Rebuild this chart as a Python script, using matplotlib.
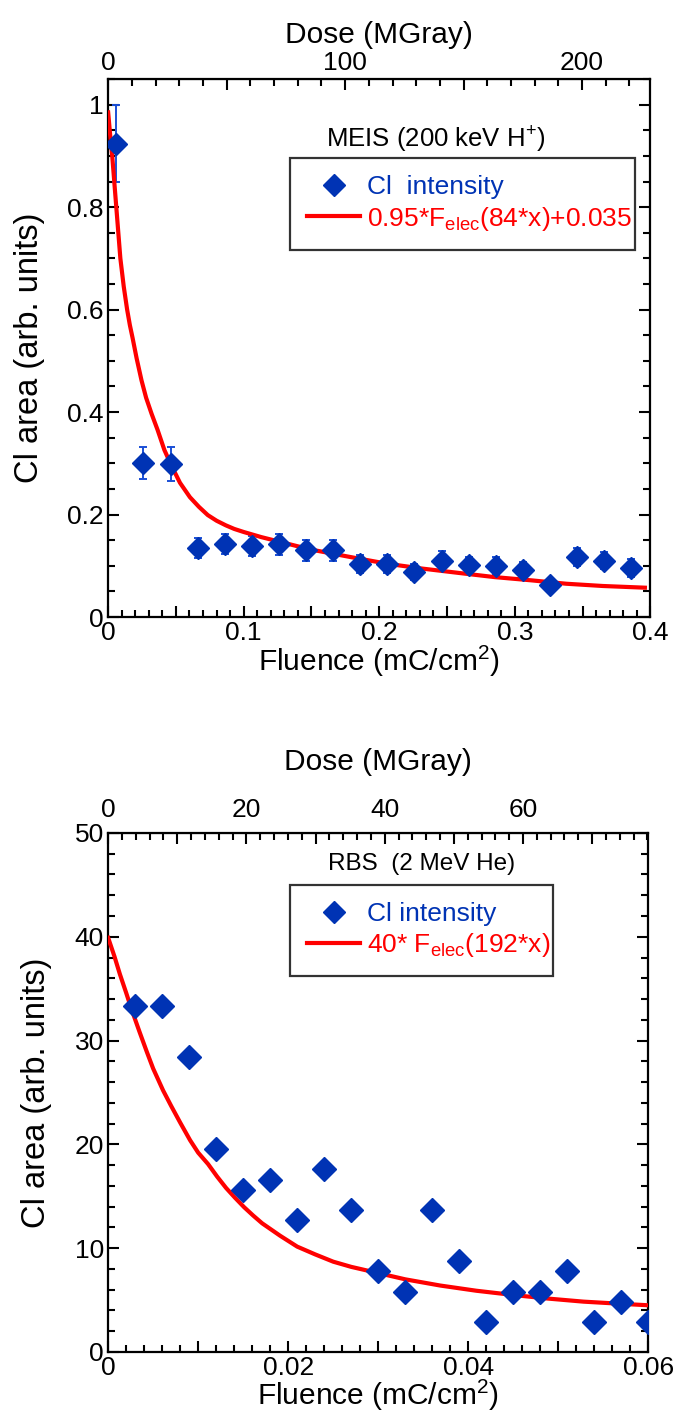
import numpy as np
import matplotlib
matplotlib.use('Agg')
import matplotlib.pyplot as plt
from matplotlib.ticker import MultipleLocator, FuncFormatter
from matplotlib.lines import Line2D

plt.rcParams['font.family'] = ['Liberation Sans', 'DejaVu Sans']
plt.rcParams['mathtext.fontset'] = 'custom'
plt.rcParams['mathtext.rm'] = 'Liberation Sans'
plt.rcParams['mathtext.it'] = 'Liberation Sans'

### MEIS data (top panel) ###
meis_fluence = [0.006, 0.026, 0.046, 0.066, 0.086, 0.106, 0.126, 0.146, 0.166, 0.186,
                0.206, 0.226, 0.246, 0.266, 0.286, 0.306, 0.326, 0.346, 0.366, 0.386]
meis_area = [0.924, 0.300, 0.298, 0.135, 0.143, 0.139, 0.142, 0.130, 0.130, 0.104,
             0.103, 0.088, 0.110, 0.101, 0.100, 0.091, 0.062, 0.117, 0.110, 0.096]
meis_err = [0.075, 0.031, 0.033, 0.020, 0.020, 0.020, 0.020, 0.020, 0.020, 0.018,
            0.018, 0.015, 0.018, 0.017, 0.017, 0.017, 0.010, 0.018, 0.017, 0.017]
# fit curve
meis_fit_x = [0.0, 0.0015, 0.003, 0.0045, 0.006, 0.0075, 0.009, 0.0115, 0.014, 0.016,
              0.018, 0.021, 0.0246, 0.028, 0.032, 0.0365, 0.0415, 0.0466, 0.053, 0.0603,
              0.067, 0.0735, 0.080, 0.0868, 0.093, 0.100, 0.113, 0.1265, 0.140, 0.153,
              0.179, 0.206, 0.232, 0.259, 0.285, 0.312, 0.338, 0.365, 0.396]
meis_fit_y = [0.985, 0.940, 0.900, 0.850, 0.800, 0.750, 0.700, 0.645, 0.600, 0.570,
              0.545, 0.505, 0.462, 0.428, 0.397, 0.365, 0.326, 0.296, 0.262, 0.234,
              0.215, 0.199, 0.188, 0.179, 0.172, 0.166, 0.156, 0.147, 0.138, 0.130,
              0.117, 0.104, 0.0945, 0.086, 0.078, 0.0717, 0.065, 0.0606, 0.0573]

### RBS data (bottom panel) ###
rbs_fluence = [0.003, 0.006, 0.009, 0.012, 0.015, 0.018, 0.021, 0.024, 0.027, 0.030,
               0.033, 0.036, 0.039, 0.042, 0.045, 0.048, 0.051, 0.054, 0.057, 0.060]
rbs_area = [33.3, 33.3, 28.4, 19.6, 15.6, 16.6, 12.7, 17.6, 13.7, 7.8,
            5.8, 13.7, 8.8, 2.9, 5.8, 5.8, 7.8, 2.9, 4.8, 2.9]
rbs_fit_x = [0.0, 0.0007, 0.0013, 0.002, 0.0026, 0.0035, 0.0043, 0.005, 0.0061, 0.007,
             0.008, 0.0091, 0.010, 0.0111, 0.0121, 0.0131, 0.0141, 0.0151, 0.0161, 0.0171,
             0.0181, 0.0191, 0.021, 0.023, 0.025, 0.027, 0.030, 0.033, 0.0369, 0.0409,
             0.0449, 0.0488, 0.0528, 0.0568, 0.060]
rbs_fit_y = [39.9, 38.1, 36.4, 34.6, 33.0, 30.8, 28.9, 27.3, 25.2, 23.7,
             22.1, 20.4, 19.2, 18.1, 16.9, 15.8, 14.85, 13.95, 13.15, 12.4,
             11.8, 11.2, 10.15, 9.4, 8.7, 8.2, 7.6, 7.0, 6.4, 5.9,
             5.5, 5.15, 4.85, 4.65, 4.5]

meis_dose_per_fluence = 572.0   # MGray per mC/cm2
rbs_dose_per_fluence = 1302.0

blue = '#0033b4'
ebar = '#1a4fd6'
red = '#ff0000'

fig = plt.figure(figsize=(6.76, 14.12), dpi=100)
ax1 = fig.add_axes([0.160, 0.563, 0.802, 0.381])
ax2 = fig.add_axes([0.160, 0.0425, 0.799, 0.3676])


def label_every(step, fmt):
    def f(v, pos):
        if abs(v / step - round(v / step)) > 1e-6:
            return ''
        if abs(v) < 1e-12:
            return '0'
        return fmt(v)
    return FuncFormatter(f)


def style(ax):
    for s in ax.spines.values():
        s.set_linewidth(1.6)
    ax.tick_params(which='both', direction='in', labelsize=19, width=1.5,
                   top=False, right=True, pad=3)
    ax.tick_params(which='major', length=8)
    ax.tick_params(which='minor', length=5)


def style_top(sec, pad):
    sec.tick_params(which='both', direction='in', labelsize=19, width=1.5, pad=pad)
    sec.tick_params(which='major', length=8)
    sec.tick_params(which='minor', length=5)


def add_legend(ax, labels, box):
    h = [Line2D([], [], marker='D', ls='none', color=blue, ms=11),
         Line2D([], [], color=red, lw=3)]
    leg = ax.legend(h, labels, loc='upper left', bbox_to_anchor=box, mode='expand',
                    fontsize=19, frameon=True, fancybox=False, edgecolor='black',
                    handlelength=2.0, handletextpad=0.25, borderpad=0.65,
                    labelspacing=0.2, borderaxespad=0)
    leg.get_frame().set_linewidth(1.6)
    leg.get_texts()[0].set_color(blue)
    leg.get_texts()[1].set_color(red)
    return leg


### Top panel ###
ax1.errorbar(meis_fluence, meis_area, yerr=meis_err, fmt='none', ecolor=ebar,
             elinewidth=1.4, capsize=3, capthick=1.4, zorder=2)
ax1.plot(meis_fit_x, meis_fit_y, '-', color=red, lw=3, zorder=3)
ax1.plot(meis_fluence, meis_area, 'D', color=blue, ms=11, mec=blue, zorder=4)
ax1.set_xlim(0, 0.4)
ax1.set_ylim(0, 1.05)
ax1.xaxis.set_major_locator(MultipleLocator(0.05))
ax1.xaxis.set_minor_locator(MultipleLocator(0.01))
ax1.xaxis.set_major_formatter(label_every(0.1, lambda v: f'{v:.1f}'))
ax1.yaxis.set_major_locator(MultipleLocator(0.2))
ax1.yaxis.set_minor_locator(MultipleLocator(0.05))
ax1.yaxis.set_major_formatter(label_every(0.2, lambda v: f'{v:g}'))
style(ax1)
ax1.set_xlabel('Fluence (mC/cm$^2$)', fontsize=21.5)
ax1.xaxis.set_label_coords(0.5, -0.05)
ax1.set_ylabel('Cl area (arb. units)', fontsize=23.5)
ax1.yaxis.set_label_coords(-0.116, 0.5)

sec1 = ax1.secondary_xaxis('top', functions=(lambda f: f * meis_dose_per_fluence,
                                             lambda d: d / meis_dose_per_fluence))
sec1.xaxis.set_major_locator(MultipleLocator(50))
sec1.xaxis.set_minor_locator(MultipleLocator(10))
sec1.xaxis.set_major_formatter(label_every(100, lambda v: f'{v:.0f}'))
style_top(sec1, 3)
sec1.set_xlabel('Dose (MGray)', fontsize=21.5, labelpad=6)

ax1.text(0.605, 0.887, 'MEIS (200 keV H$^{+}$)', transform=ax1.transAxes,
         ha='center', va='center', fontsize=18.5)
add_legend(ax1, ['Cl  intensity', '0.95*F$_{\\mathrm{elec}}$(84*x)+0.035'],
           (0.336, 0.673, 0.636, 0.18))

### Bottom panel ###
ax2.plot(rbs_fit_x, rbs_fit_y, '-', color=red, lw=3, zorder=3)
ax2.plot(rbs_fluence, rbs_area, 'D', color=blue, ms=12, mec=blue, zorder=4)
ax2.set_xlim(0, 0.06)
ax2.set_ylim(0, 50)
ax2.xaxis.set_major_locator(MultipleLocator(0.01))
ax2.xaxis.set_minor_locator(MultipleLocator(0.002))
ax2.xaxis.set_major_formatter(label_every(0.02, lambda v: f'{v:.2f}'))
ax2.yaxis.set_major_locator(MultipleLocator(10))
ax2.yaxis.set_minor_locator(MultipleLocator(2))
ax2.yaxis.set_major_formatter(label_every(10, lambda v: f'{v:.0f}'))
style(ax2)
ax2.set_xlabel('Fluence (mC/cm$^2$)', fontsize=21.5)
ax2.xaxis.set_label_coords(0.5, -0.05)
ax2.set_ylabel('Cl area (arb. units)', fontsize=23.5)
ax2.yaxis.set_label_coords(-0.104, 0.5)

sec2 = ax2.secondary_xaxis('top', functions=(lambda f: f * rbs_dose_per_fluence,
                                             lambda d: d / rbs_dose_per_fluence))
sec2.xaxis.set_major_locator(MultipleLocator(10))
sec2.xaxis.set_minor_locator(MultipleLocator(2))
sec2.xaxis.set_major_formatter(label_every(20, lambda v: f'{v:.0f}'))
style_top(sec2, 8)
sec2.set_xlabel('Dose (MGray)', fontsize=21.5, labelpad=20)

ax2.text(0.581, 0.94, 'RBS  (2 MeV He)', transform=ax2.transAxes,
         ha='center', va='center', fontsize=17.5)
add_legend(ax2, ['Cl intensity', '40* F$_{\\mathrm{elec}}$(192*x)'],
           (0.337, 0.713, 0.487, 0.187))

fig.savefig('out.png', dpi=100)
